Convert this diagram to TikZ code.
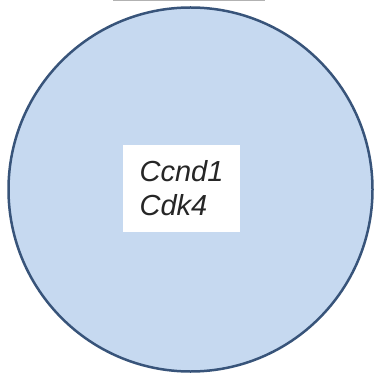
\documentclass[tikz,border=0pt]{standalone}
\usepackage{fontspec}
\setmainfont{Liberation Sans}
\usetikzlibrary{positioning}

\definecolor{cellfill}{RGB}{198,217,240}
\definecolor{celldraw}{RGB}{56,84,122}

\begin{document}
\begin{tikzpicture}[x=1pt,y=-1pt]

\tikzstyle{cellnode} = [circle,draw=celldraw,fill=cellfill,line width=2.5pt,inner sep=0,minimum size=364pt]%
\tikzstyle{genebox} = [rectangle,fill=white,draw=none,minimum width=117pt,minimum height=87pt,align=left,font=\fontsize{29}{34}\selectfont\itshape,text=black!85]%
\tikzstyle{rule} = [draw=black!30,line width=0.8pt]%

\useasboundingbox (0,0) rectangle (376,379);

\node[cellnode] (nucleus) at (190.5, 189.5) {};
\node[genebox] (genes) at (181.5, 188.5) {Ccnd1\\Cdk4};

\coordinate (ruleL) at (113, 0.5);
\coordinate (ruleR) at (265, 0.5);
\draw[rule] (ruleL) -- (ruleR);

\end{tikzpicture}
\end{document}
